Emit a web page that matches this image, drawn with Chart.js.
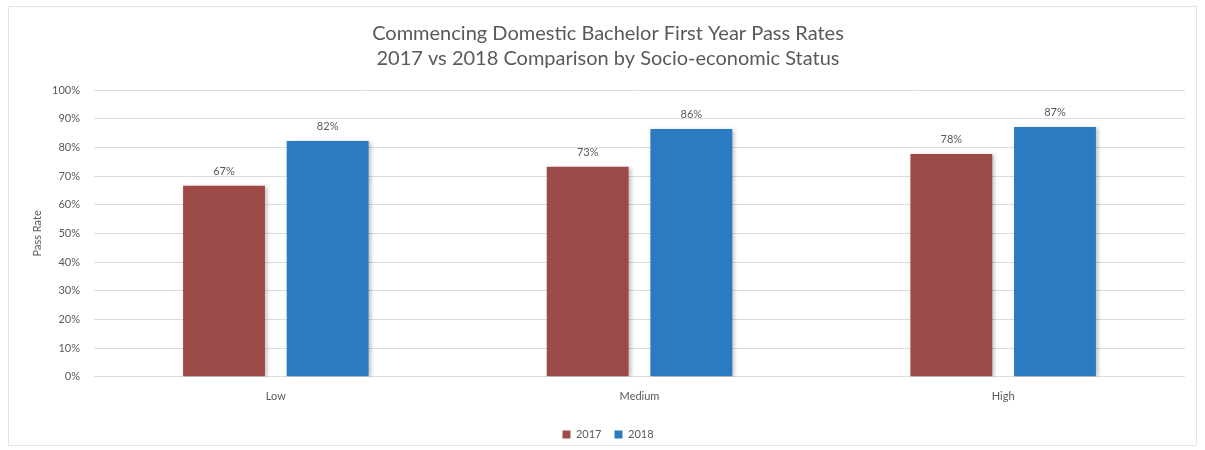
<!DOCTYPE html>
<html>
<head>
<meta charset="utf-8">
<script src="https://cdn.jsdelivr.net/npm/chart.js@4.4.1/dist/chart.umd.min.js"></script>
<style>
  html, body { margin: 0; padding: 0; background: #fff; }
  #wrap { position: relative; width: 1205px; height: 450px; }
  #frame { position: absolute; left: 8px; top: 6px; width: 1189px; height: 440px; border: 1px solid #e3e3e3; box-sizing: border-box; }
  canvas { position: absolute; left: 0; top: 0; }
</style>
</head>
<body>
<div id="wrap">
  <div id="frame"></div>
  <canvas id="chart" width="1205" height="450"></canvas>
</div>
<script>
const CATEGORIES = ["Low", "Medium", "High"];
const PASS_2017 = [66.6, 73.2, 77.7];
const PASS_2018 = [82.2, 86.4, 87.1];
const Y_TICKS = [0, 10, 20, 30, 40, 50, 60, 70, 80, 90, 100];

const FONT = "Lato, 'Open Sans', sans-serif";
const TEXT = "#595959";

// value labels above each bar
const barLabels = {
  id: "barLabels",
  afterDatasetsDraw(chart) {
    const ctx = chart.ctx;
    ctx.save();
    ctx.font = `11px ${FONT}`;
    ctx.fillStyle = TEXT;
    ctx.textAlign = "center";
    ctx.textBaseline = "bottom";
    chart.data.datasets.forEach((ds, i) => {
      chart.getDatasetMeta(i).data.forEach((bar, j) => {
        ctx.fillText(`${Math.round(ds.data[j])}%`, bar.x, bar.y - 9);
      });
    });
    ctx.restore();
  },
};

// soft shadow like the office chart
const barShadow = {
  id: "barShadow",
  beforeDatasetsDraw(chart) {
    const ctx = chart.ctx;
    ctx.save();
    ctx.shadowColor = "rgba(0,0,0,0.25)";
    ctx.shadowBlur = 4;
    ctx.shadowOffsetX = 2;
    ctx.shadowOffsetY = 1;
  },
  afterDatasetsDraw(chart) {
    chart.ctx.restore();
  },
};

new Chart(document.getElementById("chart"), {
  type: "bar",
  data: {
    labels: CATEGORIES,
    datasets: [
      { label: "2017", data: PASS_2017, backgroundColor: "#9c4b49" },
      { label: "2018", data: PASS_2018, backgroundColor: "#2a7bbf" },
    ],
  },
  plugins: [barShadow, barLabels],
  options: {
    responsive: false,
    animation: false,
    devicePixelRatio: 1,
    categoryPercentage: 0.57,
    barPercentage: 0.79,
    layout: { padding: { left: 31, right: 20, top: 21, bottom: 0 } },
    plugins: {
      title: {
        display: true,
        text: [
          "Commencing Domestic Bachelor First Year Pass Rates",
          "2017 vs 2018 Comparison by Socio-economic Status",
        ],
        color: TEXT,
        font: { family: FONT, size: 20, weight: "normal", lineHeight: 1.25 },
        padding: { top: 0, bottom: 19 },
      },
      legend: {
        position: "bottom",
        labels: {
          color: TEXT,
          font: { family: FONT, size: 11 },
          boxWidth: 8,
          boxHeight: 8,
          padding: 13,
        },
      },
      tooltip: { enabled: false },
    },
    scales: {
      x: {
        grid: { display: false, drawTicks: false },
        border: { display: false },
        ticks: { color: TEXT, font: { family: FONT, size: 11 }, padding: 13 },
      },
      y: {
        min: 0,
        max: 100,
        afterBuildTicks: (axis) => {
          axis.ticks = Y_TICKS.map((v) => ({ value: v }));
        },
        afterFit: (axis) => {
          axis.width = 63;
        },
        grid: { color: "#dcdcdc", drawTicks: false },
        border: { display: false },
        ticks: {
          color: TEXT,
          font: { family: FONT, size: 11 },
          padding: 14,
          callback: (v) => `${v}%`,
        },
        title: {
          display: true,
          text: "Pass Rate",
          color: TEXT,
          font: { family: FONT, size: 11 },
          padding: 0,
        },
      },
    },
  },
});
</script>
</body>
</html>
